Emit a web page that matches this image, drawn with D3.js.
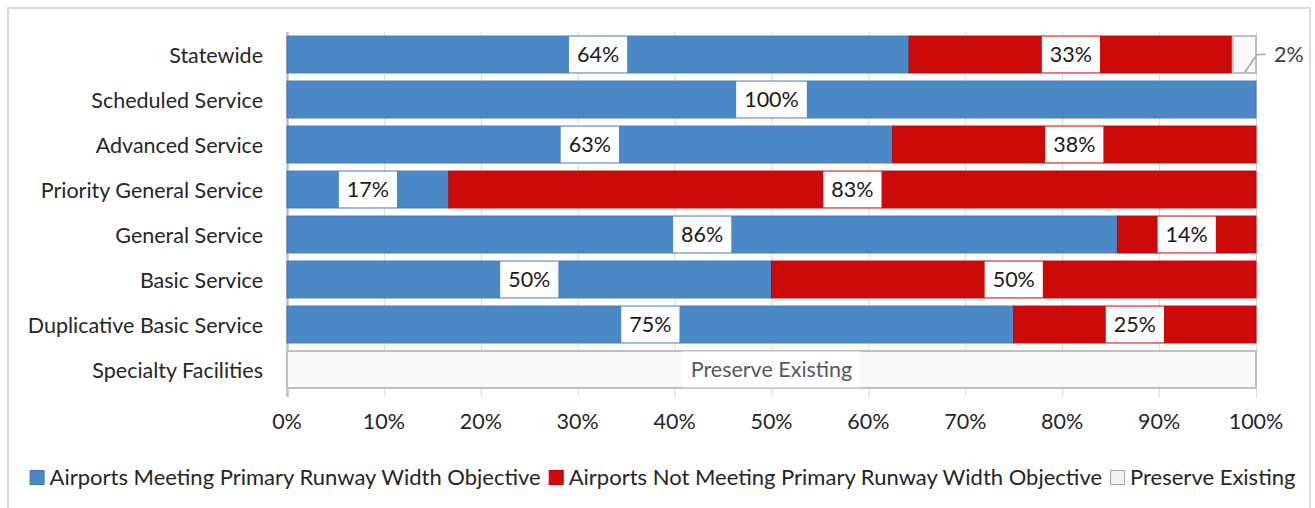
<!DOCTYPE html>
<html><head><meta charset="utf-8">
<script src="https://cdn.jsdelivr.net/npm/d3@7"></script>
<style>body{margin:0;background:#fff}svg{display:block}text{font-family:Lato,"Open Sans",sans-serif}</style>
</head><body><svg id="c" width="1315" height="508"></svg>
<script>
const categories = ["Statewide","Scheduled Service","Advanced Service","Priority General Service","General Service","Basic Service","Duplicative Basic Service","Specialty Facilities"];
const meeting    = [64.2, 100, 62.5, 16.7, 85.7, 50, 75, 0];
const notMeeting = [33.4, 0, 37.5, 83.3, 14.3, 50, 25, 0];
const preserve   = [2.4, 0, 0, 0, 0, 0, 0, 100];
const seriesNames = ["Airports Meeting Primary Runway Width Objective","Airports Not Meeting Primary Runway Width Objective","Preserve Existing"];
const tickValues = [0,10,20,30,40,50,60,70,80,90,100];

const colors = ["#4a89c6","#cc0a0a","#fafafa"];
const strokes = ["#4472c4","#c00000","#bfbfbf"];
const svg = d3.select("#c");
const F = 21.5;
svg.append("rect").attr("x",8).attr("y",8).attr("width",1302).attr("height",510).attr("fill","#fff").attr("stroke","#d9d9d9").attr("stroke-width",2);

const x = d3.scaleLinear().domain([0,100]).range([287,1256]);
const y = d3.scaleBand().domain(categories).range([32,392]).paddingInner(0.18).paddingOuter(0.09);

// gridlines
svg.append("g").selectAll("line").data(tickValues).join("line")
  .attr("x1",d=>x(d)+0.5).attr("x2",d=>x(d)+0.5).attr("y1",32).attr("y2",397)
  .attr("stroke",d=>d===0?"#bfbfbf":"#d9d9d9").attr("stroke-width",d=>d===0?2.5:1);

const data = categories.map((c,i)=>({c, v:[meeting[i],notMeeting[i],preserve[i]]}));
const stack = d3.stack().keys([0,1,2]).value((d,k)=>d.v[k]);
const layers = stack(data);

layers.forEach((layer,k)=>{
  svg.append("g").selectAll("rect").data(layer.filter(d=>d[1]-d[0]>0)).join("rect")
    .attr("x",d=>x(d[0])).attr("width",d=>x(d[1])-x(d[0]))
    .attr("y",d=>y(d.data.c)).attr("height",y.bandwidth())
    .attr("fill",colors[k]).attr("stroke",strokes[k]).attr("stroke-width",k===2?2:1);
});

// labels
layers.forEach((layer,k)=>{
  layer.forEach(d=>{
    const val = d[1]-d[0];
    if(val<=0) return;
    if(k===2 && val<10){
      const x0 = x(d[0]), x1 = x(d[1]), yb = y(d.data.c), h = y.bandwidth();
      svg.append("path").attr("d",`M${(x0+x1)/2+0.5},${yb+h-1}L${x1+1},${yb+h/2}L${x1+10},${yb+h/2}`)
        .attr("fill","none").attr("stroke","#a6a6a6").attr("stroke-width",1.5);
      svg.append("text").attr("x",x1+18).attr("y",yb+h/2).attr("dy","0.37em")
        .attr("font-size",F).attr("fill","#404040").text(Math.round(val)+"%");
      return;
    }
    const cx = (x(d[0])+x(d[1]))/2, cy = y(d.data.c)+y.bandwidth()/2;
    const txt = k===2 ? seriesNames[2] : Math.round(val+1e-9)+"%";
    const g = svg.append("g");
    const t = g.append("text").attr("x",cx).attr("y",cy).attr("dy","0.37em").attr("text-anchor","middle")
      .attr("font-size",F).attr("fill",k===2?"#595959":"#1a1a1a").text(txt);
    const w = t.node().getComputedTextLength();
    g.insert("rect","text").attr("x",cx-w/2-8).attr("y",y(d.data.c)+0.5).attr("width",w+16).attr("height",y.bandwidth()-1).attr("fill","#fff");
  });
});

// category labels
svg.append("g").selectAll("text").data(categories).join("text")
  .attr("x",263).attr("y",d=>y(d)+y.bandwidth()/2).attr("dy","0.4em").attr("text-anchor","end")
  .attr("font-size",F).attr("fill","#262626").text(d=>d);

// x tick labels
svg.append("g").selectAll("text").data(tickValues).join("text")
  .attr("x",d=>x(d)).attr("y",421).attr("dy","0.35em").attr("text-anchor","middle")
  .attr("font-size",F).attr("fill","#262626").text(d=>d+"%");

// legend
const LF = 22;
const lg = svg.append("g");
let lx = 0;
seriesNames.forEach((n,k)=>{
  const gi = lg.append("g").attr("transform",`translate(${lx},0)`);
  gi.append("rect").attr("x",0.5).attr("y",-6.5).attr("width",14).attr("height",14).attr("fill",k===2?"#f2f2f2":colors[k]).attr("stroke",k===2?"#a6a6a6":strokes[k]);
  const t = gi.append("text").attr("x",20).attr("y",0).attr("dy","0.37em").attr("font-size",LF).attr("fill","#262626").text(n);
  lx += 20 + t.node().getComputedTextLength() + 8;
});
lg.attr("transform",`translate(${(1315-lx+8)/2+5},477)`);
</script></body></html>
